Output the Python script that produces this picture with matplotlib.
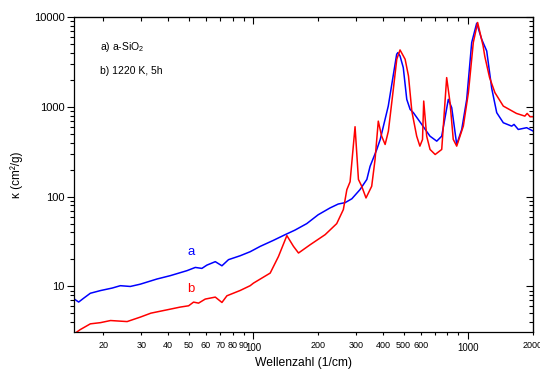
import numpy as np
import matplotlib
matplotlib.use("Agg")
import matplotlib.pyplot as plt

plt.rcParams['font.family'] = ['Liberation Sans', 'DejaVu Sans']
plt.rcParams['mathtext.fontset'] = 'custom'
plt.rcParams['mathtext.rm'] = 'Liberation Sans'

# Kurve a) a-SiO2
wn_a = [14.7, 15.35, 16.2, 17.4, 19.4, 22.0, 24.0, 26.7, 29.7, 35.5, 41.0, 49.0, 53.6,
        57.5, 60.7, 66.4, 71.3, 76.5, 86.7, 96.5, 107.5, 123.9, 140.4, 156, 177, 200,
        227, 248, 267, 287, 313, 337, 349, 375, 389, 424, 464, 470, 481, 498, 517, 536,
        555, 607, 663, 713, 752, 807, 837, 883, 932, 983, 1037, 1094, 1154, 1218, 1285,
        1356, 1404, 1455, 1592, 1632, 1708, 1869, 2006]
kappa_a = [7.2, 6.7, 7.4, 8.4, 9.0, 9.6, 10.2, 10.0, 10.6, 12.1, 13.2, 15.0, 16.3,
           15.9, 17.3, 18.9, 17.0, 19.9, 22.0, 24.4, 28.0, 32.7, 37.8, 42.5, 50.2, 63,
           75, 83, 86, 95, 120, 156, 219, 337, 436, 1026, 3880, 4050, 3715, 2755, 1219, 942,
           866, 641, 474, 417, 474, 1219, 985, 383, 564, 1219, 5243, 8610, 5706, 4224, 1618,
           866, 762, 669, 613, 641, 563, 589, 539]

# Kurve b) 1220 K, 5h
wn_b = [14.66, 15.6, 17.4, 19.4, 21.6, 25.8, 29.7, 33.3, 39.6, 45.6, 49.9, 52.6, 55.5,
        59.6, 66.4, 71.3, 75.2, 86.7, 96.5, 100, 119.6, 130.7, 143, 153.5, 162, 183.6,
        215.5, 244, 262, 272, 281.6, 297, 308, 319, 334, 355, 368, 381, 395, 410, 424.5,
        447.6, 464.5, 481, 508, 526.6, 546, 575, 595, 612, 620, 640, 663.5, 701, 752, 793,
        822, 851, 883, 948, 1001, 1055, 1105, 1172, 1193, 1255, 1330, 1455, 1675, 1833,
        1879, 1939, 2006]
kappa_b = [2.97, 3.3, 3.83, 3.95, 4.17, 4.06, 4.55, 5.04, 5.49, 5.89, 6.09, 6.69, 6.52,
           7.23, 7.61, 6.63, 7.87, 9.02, 10.2, 10.9, 14.1, 21.6, 36.9, 28.0, 23.6, 29.2,
           37.8, 50.2, 72, 120, 147, 604, 156, 131, 97, 131, 260, 697, 474, 383, 539,
           1577, 3412, 4334, 3412, 2220, 896, 474, 367, 435, 1167, 474, 337, 296, 337, 2131,
           1120, 436, 367, 613, 1449, 5243, 8770, 4804, 3686, 2147, 1449, 1026, 850, 793,
           850, 781, 781]

major_x = [100, 1000]
minor_x = [20, 30, 40, 50, 60, 70, 80, 90, 200, 300, 400, 500, 600, 700, 800, 900, 2000]
minor_x_labels = ['20', '30', '40', '50', '60', '70', '80', '90', '200', '300', '400',
                  '500', '600', '', '', '', '2000']

fig = plt.figure(figsize=(5.4, 3.7), dpi=100)
ax = fig.add_axes([0.137, 0.1035, 0.85, 0.8495])

ax.plot(wn_a, kappa_a, color='#0000ff', lw=1.1)
ax.plot(wn_b, kappa_b, color='#ff0000', lw=1.1)

ax.set_xscale('log')
ax.set_yscale('log')
ax.set_xlim(14.6, 2000)
ax.set_ylim(3.13, 10000)

ax.set_xticks(major_x, ['100', '1000'])
ax.set_xticks(minor_x, minor_x_labels, minor=True)
ax.set_yticks([10, 100, 1000, 10000], ['10', '100', '1000', '10000'])
ax.tick_params(axis='x', which='major', direction='out', length=5, width=0.8,
               labelsize=7, pad=3)
ax.tick_params(axis='x', which='minor', direction='out', length=2.5, width=0.8,
               labelsize=6.5, pad=4)
ax.tick_params(axis='y', which='major', direction='out', length=5, width=0.8,
               labelsize=8, pad=1.5)
ax.tick_params(axis='y', which='minor', direction='out', length=2.7, width=0.8)

# gespiegelte Achsen oben/rechts mit Ticks nach innen
top = ax.secondary_xaxis('top')
top.set_xticks(major_x, [])
top.set_xticks(minor_x, [], minor=True)
top.tick_params(which='major', direction='in', length=5, width=0.8)
top.tick_params(which='minor', direction='in', length=3, width=0.8)
right = ax.secondary_yaxis('right')
right.set_yticks([10, 100, 1000, 10000], [])
right.tick_params(which='major', direction='in', length=5, width=0.8)
right.tick_params(which='minor', direction='in', length=3, width=0.8)
right.yaxis.set_minor_formatter(plt.NullFormatter())

for sp in ax.spines.values():
    sp.set_linewidth(0.9)

ax.set_xlabel('Wellenzahl (1/cm)', fontsize=8.7)
ax.xaxis.set_label_coords(0.5, -0.082)
ax.set_ylabel('κ (cm²/g)', fontsize=8.5, va='center')
ax.yaxis.set_label_coords(-0.124, 0.5)

ax.text(0.057, 0.897, 'a) a-SiO$_2$', transform=ax.transAxes, fontsize=7.5, va='baseline')
ax.text(0.057, 0.82, 'b) 1220 K, 5h', transform=ax.transAxes, fontsize=7.5, va='baseline')
ax.text(51.2, 24.4, 'a', color='#0000ff', fontsize=9.5, ha='center', va='center')
ax.text(51, 9.4, 'b', color='#ff0000', fontsize=9.5, ha='center', va='center')

fig.savefig('out.png', dpi=100)
